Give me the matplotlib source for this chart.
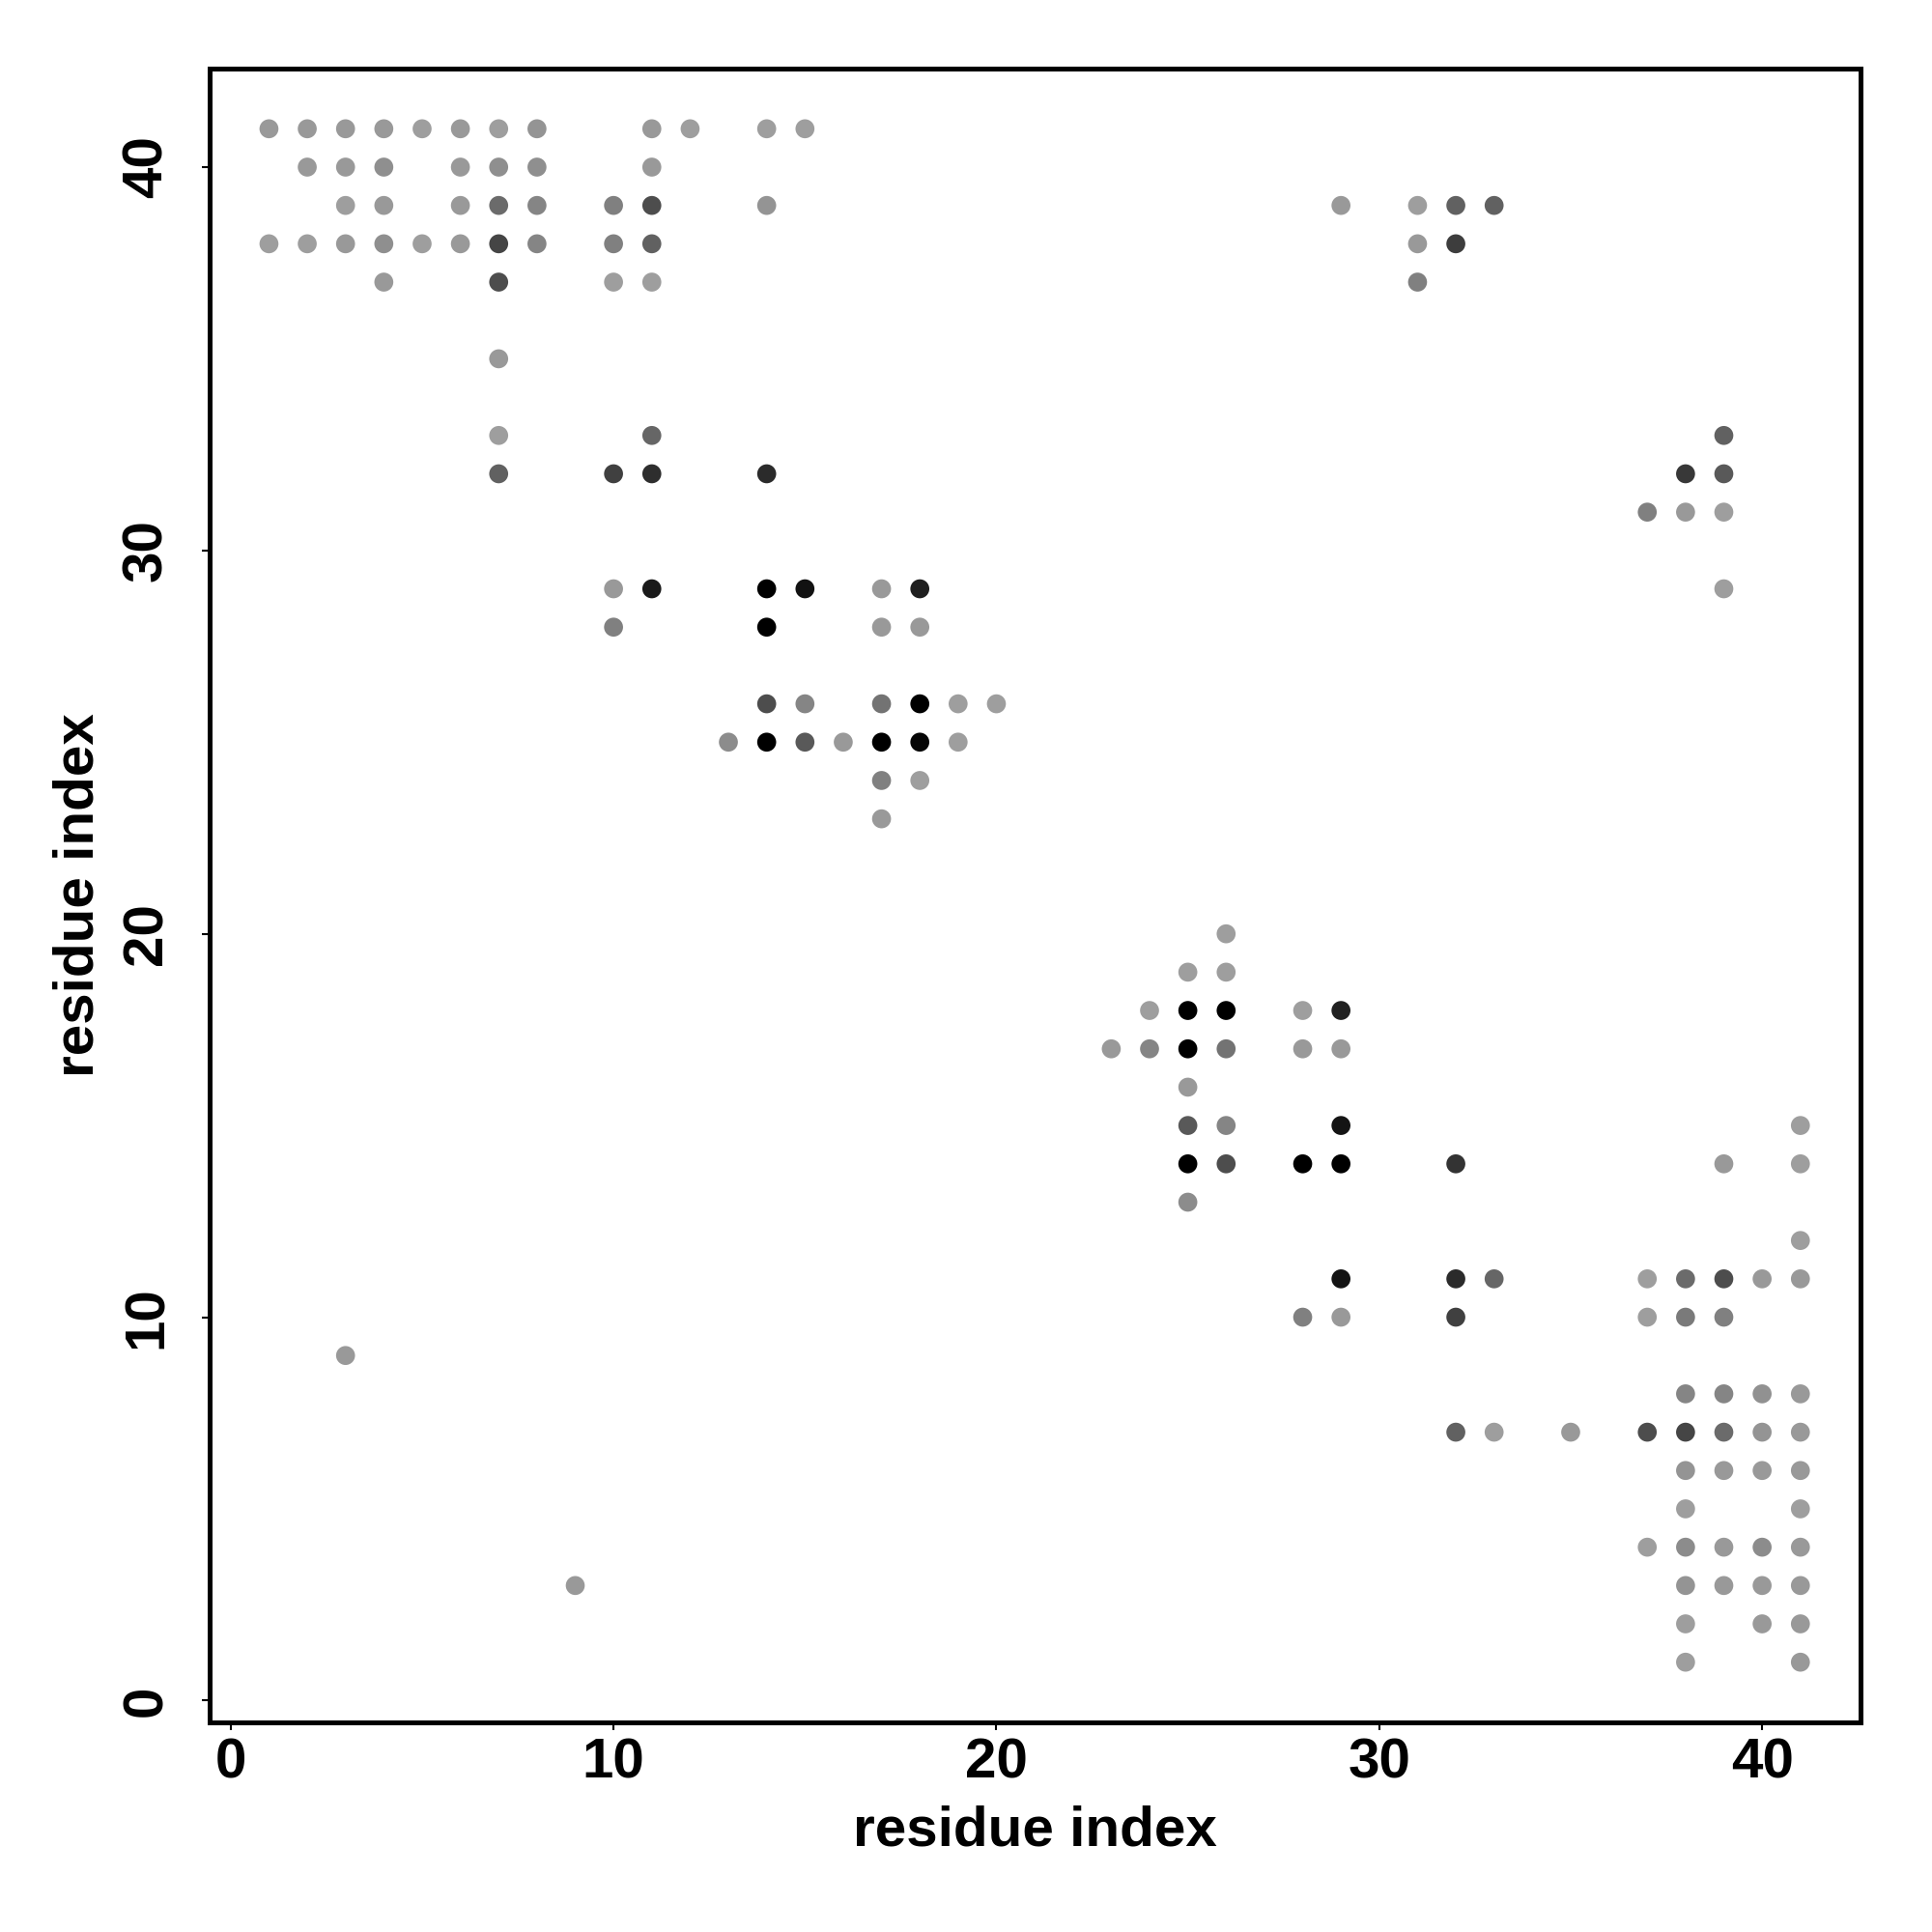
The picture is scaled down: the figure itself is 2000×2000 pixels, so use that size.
import matplotlib
matplotlib.use("Agg")
import matplotlib.pyplot as plt

# contacts: (x residue, y residue, gray level 0=black .. 1=white)
res_x = [1,2,3,4,5,6,7,8,11,12,14,15,
         2,3,4,6,7,8,11,
         3,4,6,7,8,10,11,14,29,31,32,33,
         1,2,3,4,5,6,7,8,10,11,31,32,
         4,7,10,11,31,
         7,
         7,11,39,
         7,10,11,14,38,39,
         37,38,39,
         10,11,14,15,17,18,39,
         10,14,17,18,
         14,15,17,18,19,20,
         13,14,15,16,17,18,19,
         17,18,
         17,
         26,
         25,26,
         24,25,26,28,29,
         23,24,25,26,28,29,
         25,
         25,26,29,41,
         25,26,28,29,32,39,41,
         25,
         41,
         29,32,33,37,38,39,40,41,
         28,29,32,37,38,39,
         3,
         38,39,40,41,
         32,33,35,37,38,39,40,41,
         38,39,40,41,
         38,41,
         37,38,39,40,41,
         9,38,39,40,41,
         38,40,41,
         38,41]
res_y = [41]*12 + [40]*7 + [39]*12 + [38]*12 + [37]*5 + [35]*1 + [33]*3 + [32]*6 + \
        [31]*3 + [29]*7 + [28]*4 + [26]*6 + [25]*7 + [24]*2 + [23]*1 + [20]*1 + \
        [19]*2 + [18]*5 + [17]*6 + [16]*1 + [15]*4 + [14]*7 + [13]*1 + [12]*1 + \
        [11]*8 + [10]*6 + [9]*1 + [8]*4 + [7]*8 + [6]*4 + [5]*2 + [4]*5 + [3]*5 + \
        [2]*3 + [1]*2
shade = [0.60,0.60,0.60,0.60,0.62,0.60,0.62,0.58,0.60,0.62,0.62,0.62,
         0.60,0.60,0.56,0.60,0.56,0.56,0.60,
         0.62,0.60,0.60,0.42,0.52,0.50,0.30,0.58,0.60,0.62,0.38,0.38,
         0.62,0.62,0.60,0.56,0.62,0.60,0.27,0.52,0.50,0.38,0.60,0.24,
         0.60,0.30,0.62,0.62,0.50,
         0.60,
         0.62,0.40,0.38,
         0.38,0.25,0.18,0.17,0.22,0.35,
         0.50,0.60,0.62,
         0.60,0.10,0.00,0.07,0.60,0.12,0.62,
         0.50,0.00,0.60,0.60,
         0.30,0.52,0.45,0.00,0.62,0.62,
         0.55,0.00,0.35,0.60,0.00,0.02,0.62,
         0.50,0.62,
         0.60,
         0.62,
         0.62,0.62,
         0.62,0.00,0.00,0.62,0.13,
         0.60,0.52,0.00,0.45,0.60,0.60,
         0.60,
         0.35,0.52,0.08,0.62,
         0.00,0.30,0.00,0.00,0.20,0.60,0.62,
         0.55,
         0.62,
         0.08,0.17,0.40,0.62,0.42,0.30,0.60,0.60,
         0.50,0.60,0.25,0.62,0.48,0.50,
         0.60,
         0.52,0.52,0.57,0.60,
         0.38,0.62,0.60,0.30,0.27,0.42,0.58,0.60,
         0.58,0.60,0.60,0.60,
         0.62,0.62,
         0.62,0.55,0.60,0.55,0.60,
         0.60,0.58,0.60,0.60,0.60,
         0.62,0.60,0.60,
         0.62,0.60]
ticks = [0, 10, 20, 30, 40]

plt.rcParams['font.family'] = ['Liberation Sans', 'DejaVu Sans']
fig = plt.figure(figsize=(20, 20), dpi=100)
ax = fig.add_axes([0.1085, 0.1085, 0.963 - 0.1085, 0.9645 - 0.1085])
colors = [(g, g, g) for g in shade]
ax.scatter(res_x, res_y, s=200, c=colors, edgecolors='none')
ax.set_xlim(-0.55, 42.57)
ax.set_ylim(-0.57, 42.57)
ax.set_xticks(ticks)
ax.set_yticks(ticks)
fs = 42
ax.set_xticklabels([str(t) for t in ticks], fontsize=fs, fontweight='bold')
ax.set_yticklabels([str(t) for t in ticks], fontsize=fs, fontweight='bold',
                   rotation=90, va='center')
ax.tick_params(axis='both', length=6, width=1.5, direction='out')
ax.tick_params(axis='x', pad=5)
ax.tick_params(axis='y', pad=21)
for sp in ax.spines.values():
    sp.set_linewidth(3.6)
ax.set_xlabel('residue index', fontsize=fs, fontweight='bold', labelpad=12)
ax.set_ylabel('residue index', fontsize=fs, fontweight='bold', labelpad=12)
fig.savefig('out.png', dpi=100, facecolor='white')
